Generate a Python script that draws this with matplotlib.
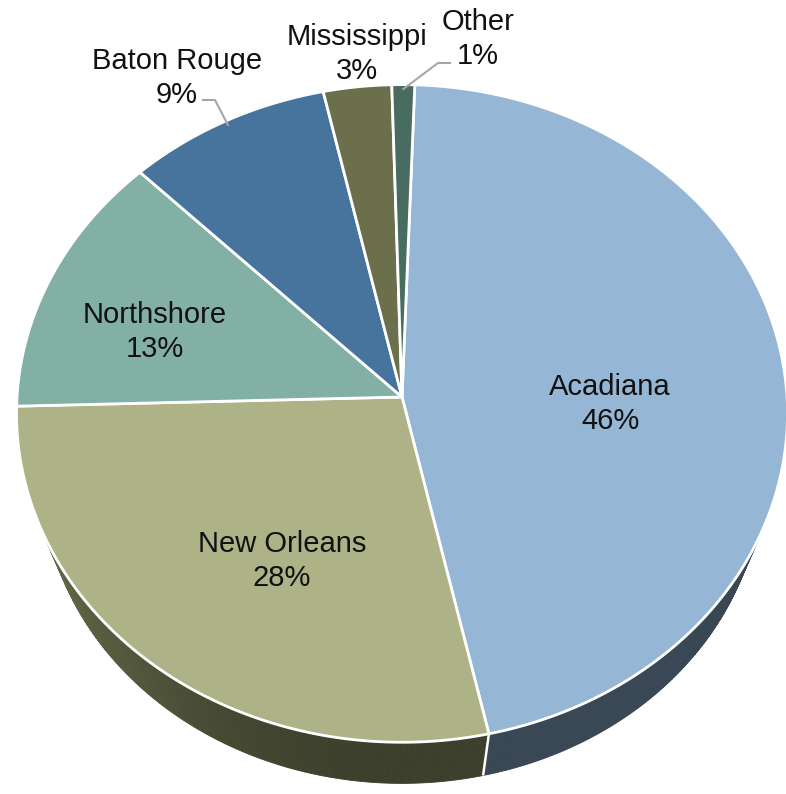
import numpy as np
import matplotlib
matplotlib.use("Agg")
import matplotlib.pyplot as plt
from matplotlib.patches import Polygon

plt.rcParams["font.family"] = ["Liberation Sans", "DejaVu Sans"]

# -----------------------------
# Data
# -----------------------------
regions = ["Acadiana", "New Orleans", "Northshore", "Baton Rouge", "Mississippi", "Other"]
shares = [46, 28, 13, 9, 3, 1]

top_colors = ["#95b7d5", "#adb387", "#83b0a4", "#46749c", "#6b6f4b", "#496c61"]
side_colors = ["#394755", "#3c3f2b", "#4c675f", "#29445c", "#42452e", "#2c423b"]

# label block centres (pixels) and which labels get a leader line
label_pos = {
    "Acadiana": (610, 404),
    "New Orleans": (282, 561),
    "Northshore": (155, 332),
    "Baton Rouge": (177, 78),
    "Mississippi": (357, 54),
    "Other": (478, 39),
}
leader_start = {"Baton Rouge": (203, 100), "Other": (450, 63)}

# -----------------------------
# 3D pie projection
# -----------------------------
CX, CY = 402, 397      # apex of the top face
RX, RY = 385, 328      # radii of the top face
K = 0.05               # perspective strength
S, VY = 0.933, 1356    # bottom face shrinks toward a vanishing point below
START = 88.0           # degrees, slices go clockwise


def top_xy(theta, r=1.0):
    u, v = r * np.cos(theta), r * np.sin(theta)
    d = 1 + K * v
    return CX + RX * u / d, CY - RY * v / d


def bottom_xy(theta):
    x, y = top_xy(theta)
    return CX + S * (x - CX), VY + S * (y - VY)


def shade(hex_color, factor):
    rgb = np.array(matplotlib.colors.to_rgb(hex_color)) * factor
    return np.clip(rgb, 0, 1)


fig = plt.figure(figsize=(7.86, 7.94), dpi=100)
ax = fig.add_axes([0, 0, 1, 1])
ax.set_xlim(0, 786)
ax.set_ylim(794, 0)
ax.axis("off")

fractions = np.array(shares, dtype=float) / sum(shares)
ends = np.deg2rad(START) - 2 * np.pi * np.cumsum(fractions)
starts = np.concatenate([[np.deg2rad(START)], ends[:-1]])

# side walls, built from thin strips so the lighting can vary round the rim
for a0, a1, col in zip(starts, ends, side_colors):
    thetas = np.linspace(a0, a1, max(int(abs(a1 - a0) * 120), 4))
    for t0, t1 in zip(thetas[:-1], thetas[1:]):
        tm = 0.5 * (t0 + t1)
        if np.sin(tm) > 0.0:
            continue
        light = 1 + 0.75 * max(0.0, -np.cos(tm)) ** 2
        quad = [top_xy(t0), top_xy(t1), bottom_xy(t1), bottom_xy(t0)]
        ax.add_patch(Polygon(quad, closed=True, facecolor=shade(col, light),
                             edgecolor=shade(col, light), linewidth=0.6))

# white seams on the side wall between slices
for a in ends:
    if np.sin(a) < -0.4:
        (x0, y0), (x1, y1) = top_xy(a), bottom_xy(a)
        ax.plot([x0, x1], [y0, y1], color="white", lw=1.8, solid_capstyle="butt")

# top faces
for a0, a1, col in zip(starts, ends, top_colors):
    thetas = np.linspace(a0, a1, max(int(abs(a1 - a0) * 200), 6))
    pts = [(CX, CY)] + [top_xy(t) for t in thetas]
    ax.add_patch(Polygon(pts, closed=True, facecolor=col, edgecolor="white",
                         linewidth=2.0, joinstyle="round"))

# labels
for name, share, a0, a1 in zip(regions, shares, starts, ends):
    x, y = label_pos[name]
    ax.text(x, y, f"{name}\n{share}%", ha="center", va="center",
            fontsize=21, linespacing=1.23, color="#111111")
    if name in leader_start:
        sx, sy = leader_start[name]
        ex, ey = top_xy(0.5 * (a0 + a1), r=0.985)
        kx = sx + 12 if ex > sx else sx - 12
        ax.plot([sx, kx, ex], [sy, sy, ey], color="#a6a6a6", lw=1.5)

fig.savefig("out.png", dpi=100)
